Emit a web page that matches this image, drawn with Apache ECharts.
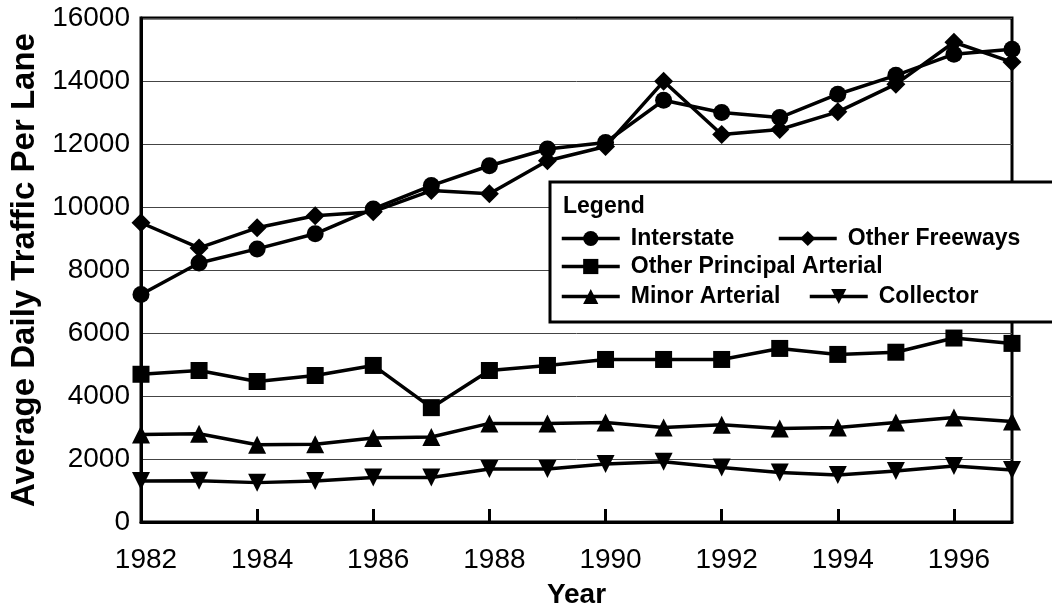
<!DOCTYPE html>
<html lang="en">
<head>
    <meta charset="UTF-8">
    <title>Average Daily Traffic Per Lane</title>
    <script src="https://cdn.jsdelivr.net/npm/echarts@6/dist/echarts.min.js"></script>
    <style>
        body {
            margin: 0;
            background: #ffffff;
        }

        #chart {
            width: 1052px;
            height: 608px;
        }
    </style>
</head>
<body>
    <div id="chart"></div>
    <script>
        // data
        const years = ['1982', '1983', '1984', '1985', '1986', '1987', '1988', '1989',
            '1990', '1991', '1992', '1993', '1994', '1995', '1996', '1997'];
        const interstate = [7220, 8220, 8670, 9150, 9940, 10680, 11310, 11840, 12050, 13390, 13000, 12840, 13580, 14180, 14850, 15010];
        const otherFreeways = [9500, 8700, 9340, 9720, 9850, 10520, 10420, 11470, 11920, 13990, 12300, 12460, 13020, 13900, 15230, 14600];
        const otherPrincipal = [4690, 4810, 4460, 4650, 4970, 3630, 4810, 4970, 5160, 5160, 5160, 5510, 5320, 5390, 5840, 5670];
        const minorArterial = [2780, 2800, 2450, 2470, 2670, 2700, 3130, 3130, 3160, 3000, 3090, 2970, 3000, 3160, 3320, 3190];
        const collector = [1300, 1310, 1250, 1300, 1410, 1410, 1680, 1680, 1840, 1910, 1730, 1570, 1490, 1620, 1780, 1650];

        const FONT = '"Liberation Sans", Arial, sans-serif';
        const downTriangle = 'path://M0,0 L10,0 L5,9 Z';

        const chart = echarts.init(document.getElementById('chart'));

        function makeSeries(name, data, symbol, size) {
            return {
                name: name,
                type: 'line',
                data: data,
                symbol: symbol,
                symbolSize: size,
                showAllSymbol: true,
                lineStyle: { color: '#000', width: 3.5 },
                itemStyle: { color: '#000' },
                animation: false
            };
        }

        // one legend per item so each can sit where the picture has it
        function makeLegend(name, left, top) {
            return {
                data: [name],
                left: left,
                top: top,
                padding: 0,
                orient: 'horizontal',
                itemWidth: 58,
                itemHeight: 19,
                z: 200,
                selectedMode: false,
                lineStyle: { width: 3.5 },
                textStyle: {
                    fontFamily: FONT,
                    fontWeight: 'bold',
                    fontSize: 23,
                    color: '#000',
                    padding: [0, 0, 0, 6]
                }
            };
        }

        const option = {
            backgroundColor: '#fff',
            animation: false,
            grid: {
                left: 141,
                right: 40,
                top: 18,
                bottom: 86,
                outerBoundsMode: 'none',
                show: true,
                borderColor: '#000',
                borderWidth: 3
            },
            xAxis: {
                type: 'category',
                data: years,
                boundaryGap: false,
                name: 'Year',
                nameLocation: 'middle',
                nameGap: 59,
                nameTextStyle: { fontFamily: FONT, fontWeight: 'bold', fontSize: 28, color: '#000' },
                axisLine: { lineStyle: { color: '#000', width: 3 } },
                axisTick: { inside: true, length: 13, interval: 1, lineStyle: { color: '#000', width: 3 } },
                axisLabel: { interval: 1, margin: 24, fontFamily: FONT, fontSize: 28, color: '#000', padding: [0, 0, 0, 10] },
                splitLine: { show: false }
            },
            yAxis: {
                type: 'value',
                min: 0,
                max: 16000,
                interval: 2000,
                name: 'Average Daily Traffic Per Lane',
                nameLocation: 'middle',
                nameGap: 89,
                nameTextStyle: { fontFamily: FONT, fontWeight: 'bold', fontSize: 33, color: '#000' },
                axisLine: { show: true, lineStyle: { color: '#000', width: 3 } },
                axisTick: { show: false },
                axisLabel: {
                    margin: 11,
                    fontFamily: FONT,
                    fontSize: 28,
                    color: '#000',
                    formatter: (v) => String(v)
                },
                splitLine: { lineStyle: { color: '#444', width: 1 } }
            },
            legend: [
                makeLegend('Interstate', 560, 227),
                makeLegend('Other Freeways', 777, 227),
                makeLegend('Other Principal Arterial', 560, 255),
                makeLegend('Minor Arterial', 560, 285),
                makeLegend('Collector', 808, 285)
            ],
            graphic: [
                {
                    type: 'rect',
                    z: 100,
                    shape: { x: 550, y: 182, width: 520, height: 140 },
                    style: { fill: '#fff', stroke: '#000', lineWidth: 3 }
                },
                {
                    type: 'text',
                    z: 101,
                    left: 563,
                    top: 195,
                    style: { text: 'Legend', fontFamily: FONT, fontWeight: 'bold', fontSize: 23, fill: '#000' }
                }
            ],
            series: [
                makeSeries('Interstate', interstate, 'circle', 17),
                makeSeries('Other Freeways', otherFreeways, 'diamond', 19),
                makeSeries('Other Principal Arterial', otherPrincipal, 'rect', 17),
                makeSeries('Minor Arterial', minorArterial, 'triangle', 18),
                makeSeries('Collector', collector, downTriangle, 18)
            ]
        };

        chart.setOption(option);

        window.addEventListener('resize', () => {
            chart.resize();
        });
    </script>
</body>
</html>
